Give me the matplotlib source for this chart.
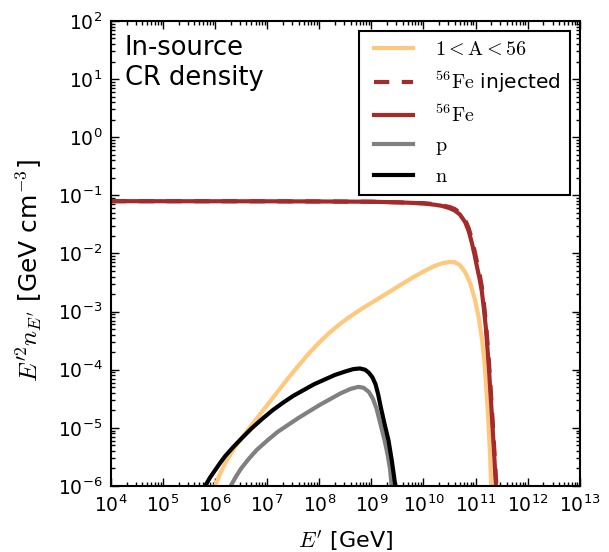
# In-source CR density plot
import numpy as np
import matplotlib
matplotlib.use("Agg")
import matplotlib.pyplot as plt

plt.rcParams['mathtext.fontset'] = 'cm'
plt.rcParams['axes.unicode_minus'] = False
plt.rcParams['lines.scale_dashes'] = False

# =============================
# Data (log10 E' [GeV], log10 E'^2 n [GeV cm^-3])
# =============================

fe_logE = [4.0, 7.0, 8.0, 9.0, 9.5, 9.8, 10.0, 10.2, 10.35, 10.5, 10.6, 10.7,
           10.8, 10.87, 10.93, 10.98, 11.03, 11.08, 11.12, 11.16, 11.2, 11.25,
           11.29, 11.33, 11.36, 11.39]
fe_logY = [-1.10, -1.102, -1.105, -1.11, -1.12, -1.13, -1.14, -1.16, -1.18,
           -1.22, -1.26, -1.33, -1.46, -1.62, -1.82, -2.02, -2.24, -2.45,
           -2.65, -2.95, -3.3, -3.89, -4.45, -5.04, -5.5, -6.0]

fe_inj_logE = [4.0, 7.0, 8.0, 9.0, 9.5, 9.8, 10.0, 10.2, 10.35, 10.5, 10.6, 10.7,
               10.8, 10.87, 10.93, 10.98, 11.03, 11.08, 11.12, 11.16, 11.2, 11.25,
               11.29, 11.33, 11.36, 11.39, 11.40]
fe_inj_logY = [-1.10, -1.102, -1.105, -1.11, -1.12, -1.13, -1.135, -1.15, -1.17,
               -1.20, -1.235, -1.30, -1.42, -1.57, -1.76, -1.95, -2.16, -2.37,
               -2.57, -2.86, -3.2, -3.78, -4.33, -4.92, -5.38, -5.85, -6.0]

mid_logE = [6.0, 6.1, 6.2, 6.3, 6.4, 6.6, 6.8, 7.0, 7.2, 7.4, 7.6, 7.8, 8.0,
            8.2, 8.4, 8.6, 8.8, 9.0, 9.2, 9.4, 9.6, 9.8, 10.0, 10.2, 10.35,
            10.5, 10.6, 10.7, 10.8, 10.9, 10.99, 11.06, 11.12, 11.17, 11.21,
            11.25, 11.28, 11.30]
mid_logY = [-6.0, -5.78, -5.60, -5.45, -5.31, -5.07, -4.84, -4.61, -4.38,
            -4.15, -3.93, -3.72, -3.53, -3.36, -3.21, -3.08, -2.96, -2.85,
            -2.74, -2.63, -2.52, -2.41, -2.31, -2.22, -2.17, -2.145, -2.15,
            -2.20, -2.32, -2.52, -2.80, -3.10, -3.45, -3.85, -4.35, -4.95,
            -5.50, -6.0]

p_logE = [6.30, 6.4, 6.5, 6.65, 6.8, 7.0, 7.2, 7.4, 7.6, 7.8, 8.0, 8.2, 8.4,
          8.6, 8.75, 8.85, 8.95, 9.03, 9.1, 9.17, 9.25, 9.31, 9.36, 9.39]
p_logY = [-6.0, -5.84, -5.70, -5.53, -5.38, -5.22, -5.07, -4.95, -4.83,
          -4.72, -4.61, -4.51, -4.41, -4.33, -4.295, -4.31, -4.38, -4.50,
          -4.67, -4.92, -5.20, -5.45, -5.72, -6.0]

n_logE = [5.81, 5.9, 6.0, 6.1, 6.2, 6.35, 6.5, 6.7, 6.9, 7.1, 7.3, 7.5, 7.7,
          7.9, 8.1, 8.3, 8.5, 8.65, 8.78, 8.88, 8.95, 9.02, 9.08, 9.13, 9.18,
          9.25, 9.33, 9.39, 9.43, 9.46]
n_logY = [-6.0, -5.86, -5.73, -5.60, -5.48, -5.33, -5.19, -5.01, -4.85,
          -4.70, -4.57, -4.45, -4.35, -4.25, -4.17, -4.09, -4.03, -3.99,
          -3.978, -4.00, -4.05, -4.13, -4.25, -4.42, -4.64, -4.92, -5.22,
          -5.55, -5.80, -6.0]

labels = [r'$1 < \mathrm{A} < 56$', r'$^{56}\mathrm{Fe}$ injected',
          r'$^{56}\mathrm{Fe}$', r'$\mathrm{p}$', r'$\mathrm{n}$']

# =============================
# Plot
# =============================

fig = plt.figure(figsize=(6.09, 5.52), dpi=100)
ax = fig.add_axes([0.182, 0.1196, 0.770, 0.8424])

lw = 3
ax.plot(10**np.array(mid_logE), 10**np.array(mid_logY), color='#ffc87c', lw=lw, label=labels[0])
ax.plot(10**np.array(fe_inj_logE), 10**np.array(fe_inj_logY), color='#a52a2a', lw=lw,
        linestyle='--', dashes=(11, 9), label=labels[1])
ax.plot(10**np.array(fe_logE), 10**np.array(fe_logY), color='#a52a2a', lw=lw, label=labels[2])
ax.plot(10**np.array(p_logE), 10**np.array(p_logY), color='#808080', lw=lw, label=labels[3])
ax.plot(10**np.array(n_logE), 10**np.array(n_logY), color='black', lw=lw, label=labels[4])

ax.set_xscale('log')
ax.set_yscale('log')
ax.set_xlim(1e4, 1e13)
ax.set_ylim(1e-6, 1e2)

ax.xaxis.set_major_locator(matplotlib.ticker.LogLocator(base=10, numticks=20))
ax.yaxis.set_major_locator(matplotlib.ticker.LogLocator(base=10, numticks=20))
ax.xaxis.set_minor_locator(matplotlib.ticker.LogLocator(base=10, subs=np.arange(2, 10), numticks=20))
ax.yaxis.set_minor_locator(matplotlib.ticker.LogLocator(base=10, subs=np.arange(2, 10), numticks=20))
ax.xaxis.set_minor_formatter(matplotlib.ticker.NullFormatter())
ax.yaxis.set_minor_formatter(matplotlib.ticker.NullFormatter())

ax.tick_params(which='both', direction='in', top=True, right=True, labelsize=13.5)
ax.tick_params(which='major', length=6, width=1, pad=6)
ax.tick_params(which='minor', length=3, width=1)
for s in ax.spines.values():
    s.set_linewidth(1.5)

ax.set_xlabel(r"$E^{\prime}$ [GeV]", fontsize=16, labelpad=9)
ax.set_ylabel(r"$E^{\prime 2} n_{E^{\prime}}$ [GeV cm$^{-3}$]", fontsize=18)
ax.yaxis.set_label_coords(-0.142, 0.462)

ax.text(0.03, 0.97, "In-source\nCR density", transform=ax.transAxes,
        fontsize=18.5, va='top', ha='left')

leg = ax.legend(loc='upper right', fontsize=14.5, fancybox=False, framealpha=1,
                numpoints=2, handlelength=2.55, borderpad=0.45)
leg.get_frame().set_edgecolor('black')
leg.get_frame().set_linewidth(1.5)

fig.savefig("out.png", dpi=100)
